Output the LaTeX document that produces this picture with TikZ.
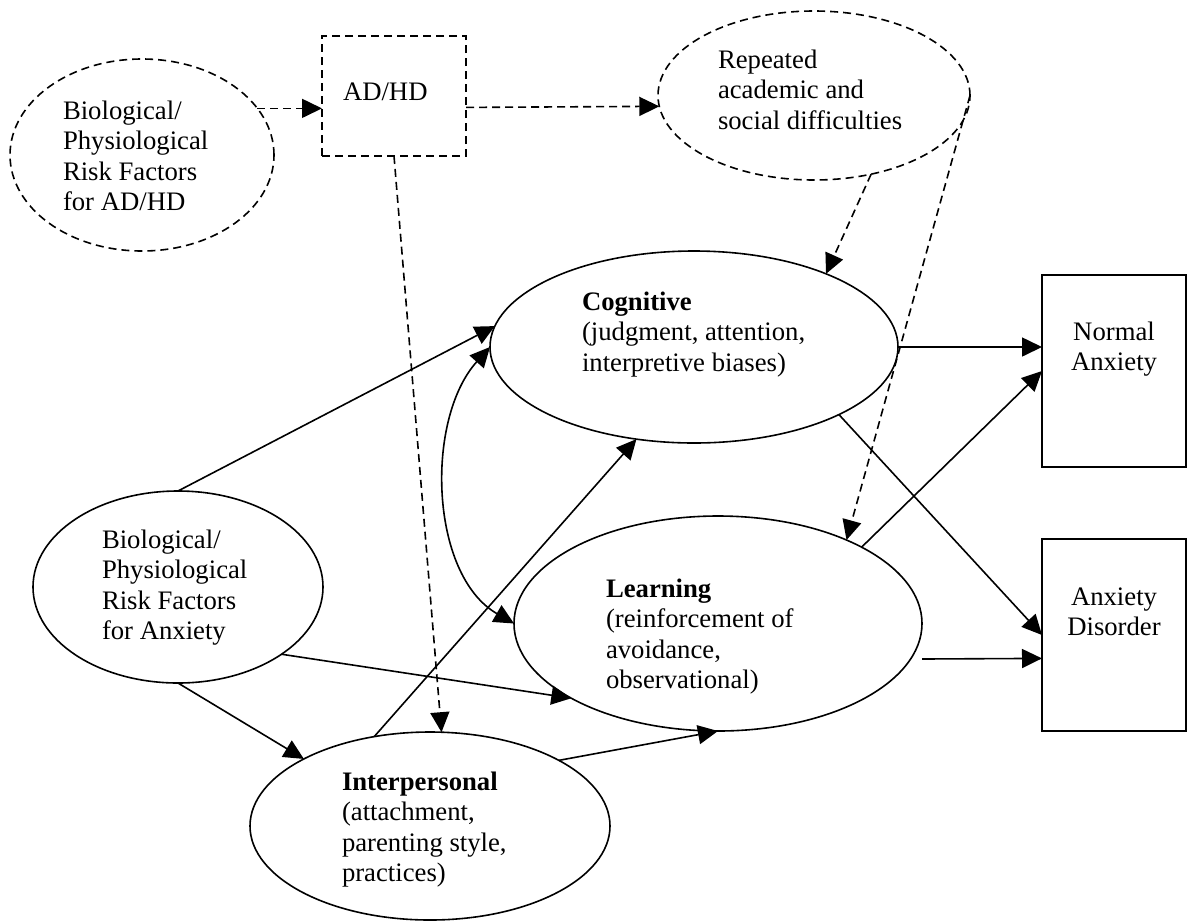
\documentclass[tikz,border=0pt]{standalone}
\usepackage{fontspec}
\setmainfont{Liberation Serif}
\usetikzlibrary{arrows.meta,shapes.geometric}
\newcommand{\txtblock}[2][l]{\begin{tabular}[t]{@{}#1@{}}#2\end{tabular}}
\begin{document}
\begin{tikzpicture}[x=1pt,y=-1pt,
  every node/.style={font=\fontsize{26.7}{30.6}\selectfont, outer sep=0pt},
  lw/.style={line width=1.6pt},
  dashline/.style={line width=1.6pt, dash pattern=on 8pt off 5pt},
  arrowed/.style={-{Triangle[length=20pt,width=19pt]}},
  biarrowed/.style={{Triangle[length=20pt,width=19pt]}-{Triangle[length=20pt,width=19pt]}},
  oval/.style={ellipse, draw, line width=1.6pt, inner sep=0pt},
  box/.style={rectangle, draw, line width=1.6pt, inner sep=0pt},
  txt/.style={inner sep=0pt, anchor=base west}]
\useasboundingbox (0,0) rectangle (1188,922);
% nodes
\node[oval,dashline,minimum width=264pt,minimum height=192pt] (bioA) at (142,155) {};
\node[txt] (bioAT) at (63,119) {\txtblock{Biological/\\Physiological\\Risk Factors\\for AD/HD}};
\node[box,dashline,minimum width=144pt,minimum height=120pt] (adhd) at (394,96) {};
\node[txt] (adhdT) at (343,100) {AD/HD};
\node[oval,dashline,minimum width=312pt,minimum height=169pt] (rep) at (814,95.5) {};
\node[txt] (repT) at (718,68) {\txtblock{Repeated\\academic and\\social difficulties}};
\node[oval,minimum width=408pt,minimum height=192pt] (cog) at (694,347) {};
\node[txt] (cogT) at (582,310) {\txtblock{\textbf{Cognitive}\\(judgment, attention,\\interpretive biases)}};
\node[oval,minimum width=408pt,minimum height=215pt] (lrn) at (718,623.5) {};
\node[txt] (lrnT) at (606,597) {\txtblock{\textbf{Learning}\\(reinforcement of\\avoidance,\\observational)}};
\node[oval,minimum width=360pt,minimum height=188pt] (inter) at (430,826) {};
\node[txt] (interT) at (342,790) {\txtblock{\textbf{Interpersonal}\\(attachment,\\parenting style,\\practices)}};
\node[oval,minimum width=290pt,minimum height=192pt] (bioX) at (178,587) {};
\node[txt] (bioXT) at (102,548) {\txtblock{Biological/\\Physiological\\Risk Factors\\for Anxiety}};
\node[box,minimum width=144pt,minimum height=192pt] (normal) at (1114,371) {};
\node[txt,anchor=base] (normalT) at (1114,340) {\txtblock[c]{Normal\\Anxiety}};
\node[box,minimum width=144pt,minimum height=192pt] (disorder) at (1114,635) {};
\node[txt,anchor=base] (disorderT) at (1114,605) {\txtblock[c]{Anxiety\\Disorder}};
% dashed connectors
\draw[dashline,arrowed] (bioA.22) -- (bioA.22 -| adhd.west);
\draw[dashline,arrowed] (adhd.-9.46) -- (rep.184.6);
\draw[dashline,arrowed] (adhd.south) -- (inter.83);
\draw[dashline,arrowed] (rep.-54) -- (cog.29);
\draw[dashline,arrowed] (rep.east) -- (lrn.33);
% solid connectors
\draw[lw,arrowed] (cog.east) -- (cog.east -| normal.west);
\draw[lw,arrowed] (cog.-25) -- (disorder.west);
\draw[lw,arrowed] ([yshift=-35.5pt]lrn.east) -- (disorder.198.43);
\draw[lw,arrowed] (lrn.28) -- (normal.west);
\draw[lw,arrowed] (bioX.north) -- (cog.174.5);
\draw[lw,arrowed] (bioX.-33) -- (lrn.207.5);
\draw[lw,arrowed] (bioX.south) -- (inter.152);
\draw[lw,arrowed] (inter.122.5) -- (cog.238);
\draw[lw,arrowed] (inter.27) -- (lrn.south);
\draw[lw,biarrowed] (cog.west) to[out=228,in=150,looseness=0.9] (lrn.west);
\end{tikzpicture}
\end{document}
